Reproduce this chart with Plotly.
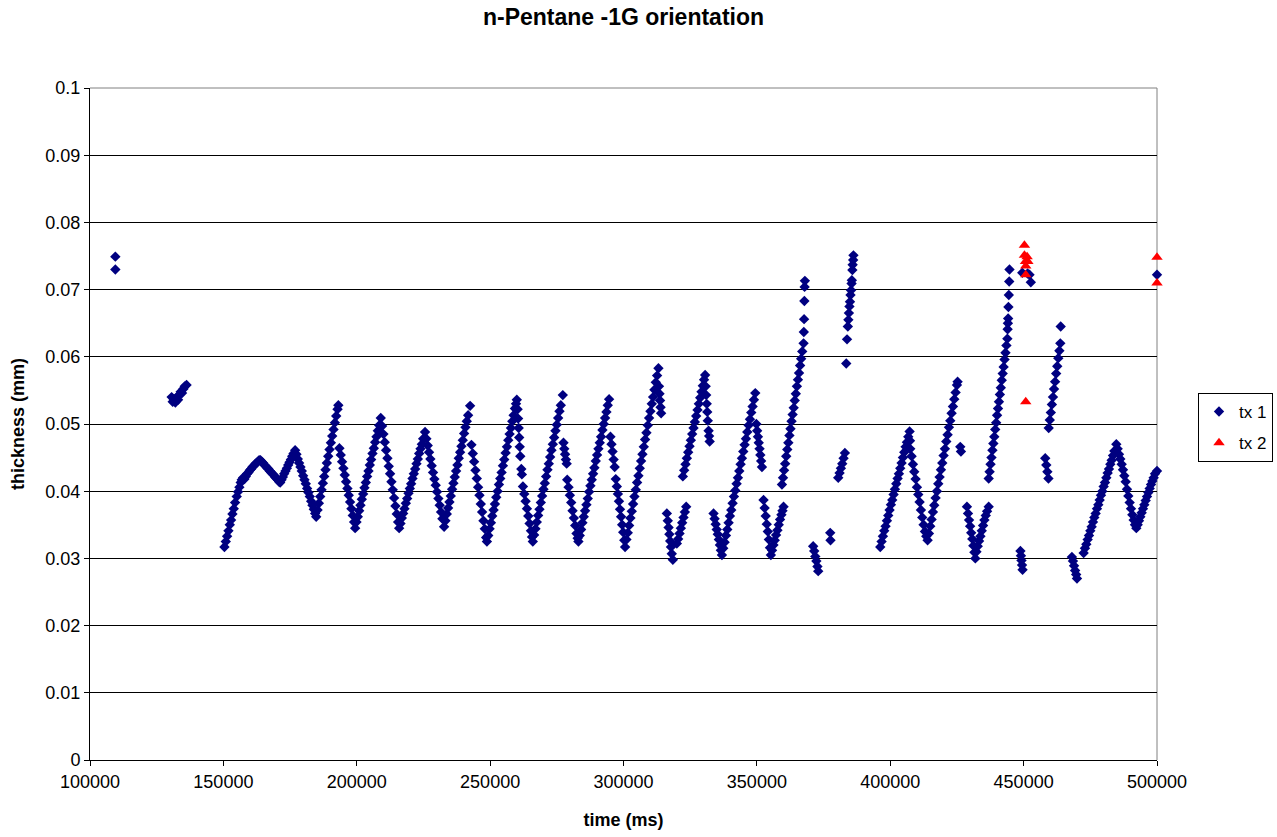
import plotly.graph_objects as go

# ---- tx 1 : film thickness readings (time in ms, thickness in mm) ----
# isolated early readings and the short cluster near 133 s
early_time = [109500, 109500, 130600, 131000, 131500, 132000, 132500, 133000,
              133500, 134000, 134500, 135000, 135500, 136200]
early_thick = [0.0749, 0.0730, 0.0540, 0.0533, 0.0537, 0.0532, 0.0540, 0.0536,
               0.0543, 0.0548, 0.0546, 0.0552, 0.0556, 0.0558]

# 150 s - 200 s
wave1_time = [150400, 150900, 151400, 151900, 152400, 152900, 153400, 153900, 154400, 155000,
              155500, 156000, 156500, 156900, 157400, 157900, 158400, 158900, 159400, 159900,
              160400, 160900, 161400, 161900, 162400, 162900, 163400, 163900,
              164400, 164900, 165400, 165900, 166400, 166900, 167400, 167900, 168400, 168900,
              169400, 169900, 170400, 170900, 171300,
              171800, 172300, 172800, 173300, 173800, 174300, 174800, 175300, 175800, 176300, 176900,
              177400, 177900, 178400, 178900, 179400, 179900, 180400, 180900, 181400, 181900,
              182400, 182900, 183400, 183900, 184400, 184800,
              185300, 185800, 186300, 186800, 187300, 187800, 188300, 188800, 189300, 189800,
              190300, 190800, 191300, 191800, 192300, 192800, 193100,
              193500, 194000, 194500, 195000, 195500, 196000, 196500, 197000, 197500, 198000,
              198500, 199000, 199400]
wave1_thick = [0.0317, 0.0325, 0.0333, 0.0341, 0.0350, 0.0357, 0.0366, 0.0374, 0.0383, 0.0392,
               0.0399, 0.0406, 0.0413, 0.0417, 0.0420, 0.0418, 0.0422, 0.0426, 0.0428, 0.0431,
               0.0433, 0.0436, 0.0438, 0.0440, 0.0442, 0.0444, 0.0446, 0.0446,
               0.0444, 0.0442, 0.0439, 0.0437, 0.0435, 0.0433, 0.0430, 0.0428, 0.0426, 0.0424,
               0.0421, 0.0419, 0.0417, 0.0414, 0.0413,
               0.0417, 0.0421, 0.0426, 0.0430, 0.0434, 0.0439, 0.0443, 0.0447, 0.0452, 0.0456, 0.0461,
               0.0455, 0.0448, 0.0442, 0.0436, 0.0430, 0.0423, 0.0417, 0.0411, 0.0404, 0.0398,
               0.0392, 0.0385, 0.0379, 0.0373, 0.0367, 0.0362,
               0.0372, 0.0382, 0.0392, 0.0402, 0.0412, 0.0422, 0.0432, 0.0442, 0.0452, 0.0462,
               0.0472, 0.0482, 0.0492, 0.0502, 0.0512, 0.0522, 0.0528,
               0.0464, 0.0454, 0.0444, 0.0434, 0.0424, 0.0414, 0.0404, 0.0394, 0.0384, 0.0374,
               0.0364, 0.0354, 0.0345]

# 200 s - 266 s
wave2_time = [199900, 200400, 200900, 201400, 201900, 202400, 202900, 203400, 203900, 204400,
              204900, 205400, 205900, 206400, 206900, 207400, 207900, 208400, 209000,
              209500, 210000, 210500, 211000, 211500, 212000, 212500, 213000, 213500, 214000,
              214500, 215000, 215500, 215900,
              216400, 216900, 217400, 217900, 218400, 218900, 219400, 219900, 220400, 220900,
              221400, 221900, 222400, 222900, 223400, 223900, 224400, 224900, 225600,
              226100, 226600, 227100, 227600, 228100, 228600, 229100, 229600, 230100, 230600,
              231100, 231600, 232100, 232750,
              233250, 233750, 234250, 234750, 235250, 235750, 236250, 236750, 237250, 237750,
              238250, 238750, 239250, 239750, 240250, 240750, 241250, 241750, 242500,
              243000, 243500, 244000, 244500, 245000, 245500, 246000, 246500, 247000, 247500,
              248000, 248500, 248800,
              249300, 249800, 250300, 250800, 251300, 251800, 252300, 252800, 253300, 253800,
              254300, 254800, 255300, 255800, 256300, 256800, 257300, 257800, 258300, 258800,
              259300, 259700, 260000,
              260300, 260500, 260700, 260900, 261100, 261300, 261700, 261900, 262300,
              262800, 263300, 263800, 264300, 264800, 265300, 265700, 266000]
wave2_thick = [0.0354, 0.0362, 0.0371, 0.0379, 0.0388, 0.0396, 0.0405, 0.0413, 0.0422, 0.0430,
               0.0439, 0.0447, 0.0456, 0.0464, 0.0473, 0.0481, 0.0490, 0.0498, 0.0509,
               0.0497, 0.0485, 0.0473, 0.0461, 0.0449, 0.0437, 0.0426, 0.0414, 0.0402, 0.0390,
               0.0378, 0.0366, 0.0354, 0.0345,
               0.0352, 0.0360, 0.0367, 0.0374, 0.0382, 0.0389, 0.0397, 0.0404, 0.0411, 0.0419,
               0.0426, 0.0433, 0.0441, 0.0448, 0.0456, 0.0463, 0.0470, 0.0478, 0.0488,
               0.0478, 0.0468, 0.0458, 0.0448, 0.0438, 0.0428, 0.0418, 0.0409, 0.0399, 0.0389,
               0.0379, 0.0369, 0.0359, 0.0347,
               0.0356, 0.0366, 0.0375, 0.0384, 0.0393, 0.0403, 0.0412, 0.0421, 0.0430, 0.0439,
               0.0449, 0.0458, 0.0467, 0.0476, 0.0486, 0.0495, 0.0504, 0.0513, 0.0527,
               0.0469, 0.0456, 0.0444, 0.0431, 0.0419, 0.0406, 0.0394, 0.0381, 0.0369, 0.0356,
               0.0344, 0.0331, 0.0325,
               0.0334, 0.0344, 0.0353, 0.0363, 0.0372, 0.0381, 0.0391, 0.0400, 0.0410, 0.0419,
               0.0428, 0.0438, 0.0447, 0.0457, 0.0466, 0.0476, 0.0485, 0.0494, 0.0504, 0.0513,
               0.0523, 0.0530, 0.0536,
               0.0522, 0.0508, 0.0494, 0.0480, 0.0466, 0.0452, 0.0433, 0.0425, 0.0407,
               0.0396, 0.0385, 0.0374, 0.0363, 0.0352, 0.0341, 0.0332, 0.0325]

# 266 s - 314 s
wave3_time = [266500, 267000, 267500, 268000, 268500, 269000, 269500, 270000, 270500, 271000,
              271500, 272000, 272500, 273000, 273500, 274000, 274500, 275000, 275500, 276000,
              276500, 277250,
              277500, 277800, 278100, 278400, 278700, 278900, 279400, 279900, 280400, 280900,
              281400, 281900, 282400, 282800, 283100,
              283600, 284100, 284600, 285100, 285600, 286100, 286600, 287100, 287600, 288100,
              288600, 289100, 289600, 290100, 290600, 291100, 291600, 292100, 292600, 293100,
              293600, 294100, 294600,
              295100, 295500, 295900, 296300, 296700, 297100, 297500, 297900, 298300, 298700,
              299100, 299500, 299900, 300300, 300600,
              301100, 301600, 302100, 302600, 303100, 303600, 304100, 304600, 305100, 305600,
              306100, 306600, 307100, 307600, 308100, 308600, 309100, 309600, 310100, 310600,
              311100, 311600, 312100, 312600, 313100,
              313300, 313500, 313700, 313900, 314100]
wave3_thick = [0.0335, 0.0344, 0.0354, 0.0364, 0.0373, 0.0383, 0.0393, 0.0403, 0.0412, 0.0422,
               0.0432, 0.0441, 0.0451, 0.0461, 0.0470, 0.0480, 0.0490, 0.0499, 0.0509, 0.0519,
               0.0528, 0.0543,
               0.0472, 0.0463, 0.0455, 0.0447, 0.0441, 0.0417, 0.0406, 0.0394, 0.0383, 0.0371,
               0.0360, 0.0349, 0.0337, 0.0330, 0.0325,
               0.0334, 0.0343, 0.0353, 0.0362, 0.0371, 0.0380, 0.0389, 0.0399, 0.0408, 0.0417,
               0.0426, 0.0435, 0.0445, 0.0454, 0.0463, 0.0472, 0.0481, 0.0491, 0.0500, 0.0509,
               0.0518, 0.0528, 0.0537,
               0.0481, 0.0470, 0.0459, 0.0447, 0.0436, 0.0418, 0.0407, 0.0396, 0.0385, 0.0373,
               0.0362, 0.0350, 0.0339, 0.0327, 0.0317,
               0.0328, 0.0338, 0.0349, 0.0360, 0.0370, 0.0381, 0.0392, 0.0402, 0.0413, 0.0423,
               0.0434, 0.0445, 0.0455, 0.0466, 0.0477, 0.0487, 0.0498, 0.0509, 0.0519, 0.0530,
               0.0540, 0.0551, 0.0562, 0.0572, 0.0583,
               0.0556, 0.0545, 0.0535, 0.0525, 0.0516]

# 316 s - 387 s
wave4_time = [316250, 316600, 316900, 317200, 317500, 317800, 318100, 318500,
              320000, 320500, 321000, 321500, 322000, 322500, 323000, 323500,
              322250, 322750, 323250, 323750, 324250, 324750, 325250, 325750, 326250, 326750,
              327250, 327750, 328250, 328750, 329250, 329750, 330200, 330600,
              330800, 331000, 331200, 331400, 331600, 331900, 332100, 332300,
              333750, 334150, 334550, 334950, 335350, 335750, 336150, 336500, 336900,
              337400, 337900, 338400, 338900, 339400, 339900, 340400, 340900, 341400, 341900,
              342400, 342900, 343400, 343900, 344400, 344900, 345400, 345900, 346400, 346900,
              347400, 347900, 348400, 348900, 349400,
              349800, 350100, 350400, 350700, 351000, 351300, 351600, 351900,
              352500, 352900, 353300, 353700, 354100, 354500, 354900, 355250,
              355700, 356200, 356700, 357200, 357700, 358200, 358700, 359200, 359600, 360000,
              359400, 359800, 360200, 360600, 361000, 361400, 361800, 362200, 362600, 363000,
              363400, 363800, 364200, 364600, 365000, 365400, 365800, 366200, 366600, 367000,
              367500, 367600, 367700, 367800, 367900, 368000,
              371100, 371500, 371900, 372300, 372700, 373000,
              377500, 377600,
              380500, 381000, 381500, 382000, 382500, 383000,
              383500, 383800, 384100, 384300, 384500, 384700, 384900, 385100, 385300, 385500,
              385600, 385800, 385900, 386100, 386200]
wave4_thick = [0.0367, 0.0356, 0.0346, 0.0336, 0.0326, 0.0317, 0.0307, 0.0298,
               0.0322, 0.0329, 0.0337, 0.0345, 0.0353, 0.0361, 0.0369, 0.0377,
               0.0422, 0.0431, 0.0440, 0.0449, 0.0458, 0.0467, 0.0476, 0.0485, 0.0494, 0.0503,
               0.0512, 0.0521, 0.0530, 0.0539, 0.0548, 0.0557, 0.0566, 0.0573,
               0.0556, 0.0543, 0.0530, 0.0518, 0.0505, 0.0490, 0.0482, 0.0474,
               0.0367, 0.0359, 0.0351, 0.0343, 0.0336, 0.0328, 0.0320, 0.0312, 0.0305,
               0.0315, 0.0324, 0.0334, 0.0343, 0.0353, 0.0363, 0.0372, 0.0382, 0.0392, 0.0401,
               0.0411, 0.0420, 0.0430, 0.0440, 0.0449, 0.0459, 0.0469, 0.0478, 0.0488, 0.0498,
               0.0507, 0.0517, 0.0526, 0.0536, 0.0546,
               0.0500, 0.0490, 0.0481, 0.0472, 0.0463, 0.0454, 0.0445, 0.0436,
               0.0387, 0.0375, 0.0363, 0.0351, 0.0340, 0.0328, 0.0316, 0.0305,
               0.0312, 0.0320, 0.0327, 0.0335, 0.0342, 0.0350, 0.0358, 0.0365, 0.0371, 0.0377,
               0.0410, 0.0420, 0.0431, 0.0441, 0.0452, 0.0462, 0.0472, 0.0483, 0.0493, 0.0504,
               0.0514, 0.0524, 0.0535, 0.0545, 0.0556, 0.0566, 0.0576, 0.0587, 0.0597, 0.0608,
               0.0620, 0.0637, 0.0656, 0.0683, 0.0704, 0.0713,
               0.0318, 0.0311, 0.0303, 0.0296, 0.0288, 0.0281,
               0.0338, 0.0327,
               0.0420, 0.0427, 0.0434, 0.0441, 0.0449, 0.0457,
               0.0590, 0.0626, 0.0645, 0.0655, 0.0665, 0.0675, 0.0682, 0.0692, 0.0699, 0.0709,
               0.0714, 0.0729, 0.0737, 0.0744, 0.0751]

# 396 s - 500 s
wave5_time = [396250, 396750, 397250, 397750, 398250, 398750, 399250, 399750, 400250, 400750,
              401250, 401750, 402250, 402750, 403250, 403750, 404250, 404750, 405250, 405750,
              406250, 406750, 407250,
              407400, 407500, 408000, 408500, 409000, 409500, 410000, 410500, 411000, 411500,
              412000, 412500, 413000, 413500, 414000,
              414500, 415000, 415500, 416000, 416500, 417000, 417500, 418000, 418500, 419000,
              419500, 420000, 420500, 421000, 421500, 422000, 422500, 423000, 423500, 424000,
              424500, 425000, 425250,
              426250, 426500,
              428750, 429150, 429550, 429950, 430350, 430750, 431150, 431550, 431900,
              432300, 432800, 433300, 433800, 434300, 434800, 435300, 435800, 436300, 436900,
              436900, 437250, 437600, 437950, 438300, 438650, 439000, 439350, 439700, 440050,
              440400, 440750, 441100, 441450, 441800, 442150, 442500, 442850, 443200, 443550,
              443900, 444000, 444100, 444200, 444300, 444450, 444600, 444700,
              448800, 449000, 449200, 449400, 449600,
              449500, 451500, 452200, 452700,
              458100, 458500, 458900, 459300,
              459400, 459800, 460200, 460600, 461000, 461400, 461800, 462200, 462600, 463000,
              463400, 463750, 463900,
              468100, 468500, 468900, 469300, 469700, 470000,
              472500, 473000, 473500, 474000, 474500, 475000, 475500, 476000, 476500, 477000,
              477500, 478000, 478500, 479000, 479500, 480000, 480500, 481000, 481500, 482000,
              482500, 483000, 483500, 484000, 484750,
              485250, 485750, 486250, 486750, 487250, 487750, 488250, 488750, 489250, 489750,
              490250, 490750, 491250, 491750, 492250,
              492750, 493250, 493750, 494250, 494750, 495250, 495750, 496250, 496750, 497250,
              497750, 498250, 498750, 499250, 500000,
              500000]
wave5_thick = [0.0317, 0.0325, 0.0333, 0.0341, 0.0348, 0.0356, 0.0364, 0.0372, 0.0380, 0.0387,
               0.0395, 0.0403, 0.0411, 0.0419, 0.0426, 0.0434, 0.0442, 0.0450, 0.0458, 0.0466,
               0.0473, 0.0481, 0.0489,
               0.0475, 0.0463, 0.0452, 0.0440, 0.0429, 0.0418, 0.0406, 0.0395, 0.0384, 0.0372,
               0.0361, 0.0350, 0.0340, 0.0333, 0.0327,
               0.0337, 0.0348, 0.0358, 0.0369, 0.0379, 0.0390, 0.0400, 0.0411, 0.0421, 0.0432,
               0.0442, 0.0453, 0.0463, 0.0474, 0.0484, 0.0495, 0.0505, 0.0516, 0.0526, 0.0537,
               0.0547, 0.0558, 0.0563,
               0.0466, 0.0459,
               0.0377, 0.0367, 0.0357, 0.0348, 0.0338, 0.0329, 0.0319, 0.0309, 0.0300,
               0.0310, 0.0318, 0.0326, 0.0333, 0.0341, 0.0349, 0.0357, 0.0364, 0.0370, 0.0377,
               0.0419, 0.0429, 0.0440, 0.0450, 0.0461, 0.0471, 0.0481, 0.0492, 0.0502, 0.0513,
               0.0523, 0.0533, 0.0544, 0.0554, 0.0565, 0.0575, 0.0585, 0.0596, 0.0606, 0.0617,
               0.0627, 0.0641, 0.0650, 0.0657, 0.0674, 0.0692, 0.0712, 0.0730,
               0.0311, 0.0304, 0.0297, 0.0290, 0.0283,
               0.0725, 0.0724, 0.0722, 0.0711,
               0.0449, 0.0439, 0.0429, 0.0419,
               0.0494, 0.0506, 0.0517, 0.0529, 0.0540, 0.0552, 0.0563, 0.0575, 0.0586, 0.0598,
               0.0609, 0.0620, 0.0645,
               0.0302, 0.0296, 0.0289, 0.0282, 0.0276, 0.0270,
               0.0308, 0.0315, 0.0321, 0.0328, 0.0334, 0.0341, 0.0347, 0.0354, 0.0361, 0.0367,
               0.0374, 0.0380, 0.0387, 0.0394, 0.0400, 0.0407, 0.0413, 0.0420, 0.0427, 0.0433,
               0.0440, 0.0446, 0.0453, 0.0460, 0.0470,
               0.0463, 0.0455, 0.0448, 0.0440, 0.0432, 0.0423, 0.0414, 0.0403, 0.0393, 0.0383,
               0.0374, 0.0365, 0.0357, 0.0350, 0.0345,
               0.0350, 0.0356, 0.0362, 0.0368, 0.0374, 0.0380, 0.0386, 0.0392, 0.0398, 0.0404,
               0.0410, 0.0415, 0.0420, 0.0426, 0.0430,
               0.0722]

# ---- tx 2 : second transducer readings ----
tx2_time = [450300, 450300, 451300, 450700, 451600, 450800, 450800, 450800, 500000, 500000]
tx2_thick = [0.0766, 0.0751, 0.0749, 0.0742, 0.0742, 0.0735, 0.0722, 0.0533, 0.0748, 0.0710]

tx1_time = early_time + wave1_time + wave2_time + wave3_time + wave4_time + wave5_time
tx1_thick = early_thick + wave1_thick + wave2_thick + wave3_thick + wave4_thick + wave5_thick

FONT = "Arial, 'Liberation Sans', sans-serif"

fig = go.Figure()
fig.add_trace(go.Scatter(
    x=tx1_time, y=tx1_thick, mode="markers", name="tx 1", legendgroup="tx1",
    marker=dict(symbol="diamond", size=8, color="#000080", line=dict(width=0)),
    cliponaxis=False,
))
fig.add_trace(go.Scatter(
    x=tx2_time, y=tx2_thick, mode="markers", name="tx 2", legendgroup="tx2",
    marker=dict(symbol="triangle-up", size=10, color="#FF0000", line=dict(width=0)),
    cliponaxis=False,
))

W, H = 1277, 837
L, R, T, B = 90, 120, 88, 77
plot_w = W - L - R
plot_h = H - T - B

fig.update_layout(
    width=W, height=H,
    margin=dict(l=L, r=R, t=T, b=B, pad=0, autoexpand=False),
    paper_bgcolor="white", plot_bgcolor="white",
    font=dict(family=FONT, size=18, color="black"),
    title=dict(text="<b>n-Pentane -1G orientation</b>", x=0.5, xref="paper",
               y=1 - 17 / H, yref="container", yanchor="middle", xanchor="center",
               font=dict(size=23, family=FONT, color="black")),
    legend=dict(x=(1198 - L) / plot_w, y=(760 - 393) / plot_h, xanchor="left", yanchor="top",
                bordercolor="black", borderwidth=1, bgcolor="white",
                font=dict(size=17, family=FONT, color="black"),
                itemwidth=30, tracegroupgap=6),
    xaxis=dict(range=[100000, 500000], tick0=100000, dtick=50000, tickformat="d",
               showgrid=False, zeroline=False, showline=True, linecolor="black", linewidth=1,
               ticks="outside", ticklen=5, tickcolor="black", tickwidth=1,
               tickfont=dict(size=18, family=FONT, color="black"),
               title=dict(text="<b>time (ms)</b>", standoff=22,
                          font=dict(size=18, family=FONT, color="black"))),
    yaxis=dict(range=[0, 0.1], tick0=0, dtick=0.01,
               showgrid=True, gridcolor="black", gridwidth=1,
               zeroline=False, showline=True, linecolor="black", linewidth=1,
               ticks="outside", ticklen=5, tickcolor="black", tickwidth=1,
               tickfont=dict(size=18, family=FONT, color="black"),
               title=dict(text="<b>thickness (mm)</b>", standoff=16,
                          font=dict(size=18, family=FONT, color="black"))),
    shapes=[
        dict(type="line", xref="paper", yref="paper", x0=0, x1=1, y0=1, y1=1,
             line=dict(color="#808080", width=1), layer="above"),
        dict(type="line", xref="paper", yref="paper", x0=1, x1=1, y0=0, y1=1,
             line=dict(color="#808080", width=1), layer="below"),
    ],
)

fig.write_html("out.html")
